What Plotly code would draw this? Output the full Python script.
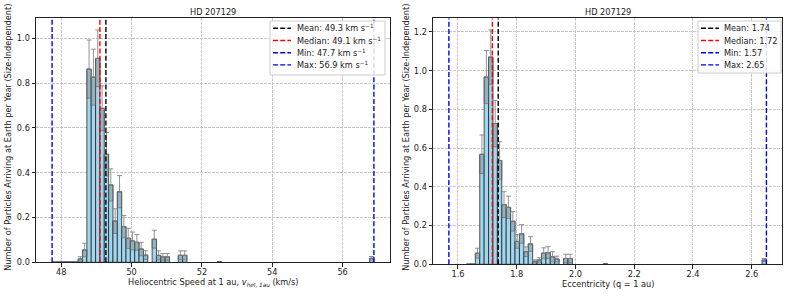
import numpy as np
import plotly.graph_objects as go

# ---------------- data ----------------
speed_bin_min = 47.74
speed_bin_max = 56.89
speed_nbins = 74
speed_counts = [0.002, 0.002, 0.002, 0.002, 0.002, 0.002, 0.015, 0.055, 0.862, 0.826,
                0.910, 0.687, 0.482, 0.345, 0.184, 0.315, 0.159, 0.107, 0.095, 0.089,
                0.059, 0.032, 0.0, 0.103, 0.031, 0.024, 0.024, 0.0, 0.0, 0.031,
                0.031, 0.0, 0.0, 0.0, 0.0, 0.0, 0.0, 0.0, 0.003, 0.0,
                0.0, 0.0, 0.0, 0.0, 0.0, 0.0, 0.0, 0.0, 0.0, 0.0,
                0.0, 0.0, 0.0, 0.0, 0.0, 0.0, 0.0, 0.0, 0.0, 0.0,
                0.0, 0.0, 0.0, 0.0, 0.0, 0.0, 0.0, 0.0, 0.0, 0.0,
                0.0, 0.0, 0.0, 0.018]
speed_errors = [0.0, 0.0, 0.0, 0.0, 0.0, 0.0, 0.010, 0.030, 0.130, 0.125,
                0.127, 0.100, 0.097, 0.072, 0.055, 0.072, 0.050, 0.045, 0.040, 0.035,
                0.030, 0.020, 0.0, 0.040, 0.020, 0.015, 0.015, 0.0, 0.0, 0.020,
                0.020, 0.0, 0.0, 0.0, 0.0, 0.0, 0.0, 0.0, 0.0, 0.0,
                0.0, 0.0, 0.0, 0.0, 0.0, 0.0, 0.0, 0.0, 0.0, 0.0,
                0.0, 0.0, 0.0, 0.0, 0.0, 0.0, 0.0, 0.0, 0.0, 0.0,
                0.0, 0.0, 0.0, 0.0, 0.0, 0.0, 0.0, 0.0, 0.0, 0.0,
                0.0, 0.0, 0.0, 0.008]
speed_stat_names = ["Mean: 49.3 km s<sup>\u22121</sup>", "Median: 49.1 km s<sup>\u22121</sup>",
                    "Min: 47.7 km s<sup>\u22121</sup>", "Max: 56.9 km s<sup>\u22121</sup>"]
speed_stat_values = [49.27, 49.10, 47.74, 56.89]
speed_ticks = [48, 50, 52, 54, 56]

ecc_bin_min = 1.569
ecc_bin_max = 2.650
ecc_nbins = 72
ecc_counts = [0.0, 0.0, 0.0, 0.0, 0.002, 0.002, 0.057, 0.568, 0.967, 1.070,
              0.727, 0.536, 0.308, 0.294, 0.222, 0.118, 0.157, 0.065, 0.105, 0.015,
              0.022, 0.057, 0.060, 0.039, 0.027, 0.0, 0.030, 0.030, 0.0, 0.0,
              0.0, 0.0, 0.0, 0.0, 0.0, 0.003, 0.0, 0.0, 0.0, 0.0,
              0.0, 0.0, 0.0, 0.0, 0.0, 0.0, 0.0, 0.0, 0.0, 0.0,
              0.0, 0.0, 0.0, 0.0, 0.0, 0.0, 0.0, 0.0, 0.0, 0.0,
              0.0, 0.0, 0.0, 0.0, 0.0, 0.0, 0.0, 0.0, 0.0, 0.0,
              0.0, 0.022]
ecc_errors = [0.0, 0.0, 0.0, 0.0, 0.0, 0.0, 0.026, 0.100, 0.137, 0.140,
              0.120, 0.097, 0.067, 0.058, 0.050, 0.035, 0.048, 0.025, 0.038, 0.008,
              0.012, 0.028, 0.031, 0.026, 0.015, 0.0, 0.022, 0.022, 0.0, 0.0,
              0.0, 0.0, 0.0, 0.0, 0.0, 0.0, 0.0, 0.0, 0.0, 0.0,
              0.0, 0.0, 0.0, 0.0, 0.0, 0.0, 0.0, 0.0, 0.0, 0.0,
              0.0, 0.0, 0.0, 0.0, 0.0, 0.0, 0.0, 0.0, 0.0, 0.0,
              0.0, 0.0, 0.0, 0.0, 0.0, 0.0, 0.0, 0.0, 0.0, 0.0,
              0.0, 0.008]
ecc_stat_names = ["Mean: 1.74", "Median: 1.72", "Min: 1.57", "Max: 2.65"]
ecc_stat_values = [1.737, 1.717, 1.569, 2.650]
ecc_ticks = [1.6, 1.8, 2.0, 2.2, 2.4, 2.6]

stat_colors = ["black", "red", "blue", "blue"]
title_text = "HD 207129"
ylabel = "Number of Particles Arriving at Earth per Year (Size-Independent)"
xlabel_speed = "Heliocentric Speed at 1 au, <i>v<sub>hel, 1au</sub></i> (km/s)"
xlabel_ecc = "Eccentricity (q = 1 au)"

FONT = "DejaVu Sans"
FS = 8.2
LFS = 8.2
TXT = "#222"
W, H = 793, 297

fig = go.Figure()
shapes = []
annotations = []


def py(pix):
    return (H - pix) / H


def px(pix):
    return pix / W


def add_panel(bmin, bmax, nb, counts, errs, names, vals, xa, ya, leg_box, leg_line, leg_text_x):
    counts = np.array(counts)
    errs = np.array(errs)
    edges = np.linspace(bmin, bmax, nb + 1)
    centers = 0.5 * (edges[:-1] + edges[1:])
    w = edges[1] - edges[0]
    m = counts > 0
    fig.add_trace(go.Bar(x=centers[m], y=counts[m], width=w, xaxis=xa, yaxis=ya,
                         marker=dict(color="rgb(160,215,238)",
                                     line=dict(color="rgba(20,20,20,0.9)", width=0.8)),
                         showlegend=False, hoverinfo="skip"))
    me = errs > 0
    fig.add_trace(go.Bar(x=centers[me], y=errs[me], base=(counts - errs)[me], width=w,
                         xaxis=xa, yaxis=ya,
                         marker=dict(color="rgba(128,128,128,0.42)",
                                     line=dict(color="rgba(90,90,90,0.7)", width=0.8)),
                         showlegend=False, hoverinfo="skip"))
    fig.add_trace(go.Scatter(x=centers[me], y=counts[me], mode="markers", xaxis=xa, yaxis=ya,
                             marker=dict(size=1, opacity=0),
                             error_y=dict(type="data", symmetric=False, array=errs[me],
                                          arrayminus=np.zeros(me.sum()),
                                          color="rgba(128,128,128,0.85)", thickness=1, width=2.5),
                             showlegend=False, hoverinfo="skip"))
    ytop = float(np.max(counts + errs)) * 1.05
    for v, c in zip(vals, stat_colors):
        fig.add_trace(go.Scatter(x=[v, v], y=[0, ytop], mode="lines", xaxis=xa, yaxis=ya,
                                 line=dict(color=c, width=1.4, dash="5px,2.2px"),
                                 showlegend=False, hoverinfo="skip"))
    # manual legend (matplotlib style)
    x0, y0, x1, y1 = leg_box
    shapes.append(dict(type="rect", xref="paper", yref="paper", x0=px(x0), x1=px(x1),
                       y0=py(y1), y1=py(y0), fillcolor="rgba(255,255,255,0.85)",
                       line=dict(color="#cccccc", width=1), layer="above"))
    rows = [y0 + 7.3 + 12.2 * i for i in range(len(names))]
    for name, c, ry in zip(names, stat_colors, rows):
        shapes.append(dict(type="line", xref="paper", yref="paper", x0=px(leg_line[0]),
                           x1=px(leg_line[1]), y0=py(ry), y1=py(ry),
                           line=dict(color=c, width=1.4, dash="5px,2.2px"), layer="above"))
        annotations.append(dict(text=name, x=px(leg_text_x), y=py(ry), xref="paper", yref="paper",
                                xanchor="left", yanchor="middle", showarrow=False,
                                font=dict(family=FONT, size=LFS, color=TXT)))
    span = bmax - bmin
    return [bmin - 0.05 * span, bmax + 0.05 * span], ytop


xr1, yt1 = add_panel(speed_bin_min, speed_bin_max, speed_nbins, speed_counts, speed_errors,
                     speed_stat_names, speed_stat_values, "x", "y",
                     (270, 21, 385, 75), (273, 291), 295)
xr2, yt2 = add_panel(ecc_bin_min, ecc_bin_max, ecc_nbins, ecc_counts, ecc_errors,
                     ecc_stat_names, ecc_stat_values, "x2", "y2",
                     (698, 21, 781, 73), (701, 719), 722)

d1 = [px(36), px(390)]
d2 = [px(433), px(782.3)]
yd1 = [py(262.3), py(18.3)]
yd2 = [py(264.3), py(18.3)]

axis_common = dict(showline=True, linecolor="#222", linewidth=1, mirror=True,
                   ticks="outside", ticklen=3.5, tickcolor="#222", tickwidth=0.8,
                   showgrid=True, gridcolor="#c8c8c8", griddash="2.5px,1.5px", gridwidth=0.8,
                   zeroline=False, automargin=False,
                   tickfont=dict(family=FONT, size=FS, color=TXT))
xaxis_extra = dict(ticklabelstandoff=-2)

# titles and axis labels
for (dx, dy, xl, ylx, xly) in [(d1, yd1, xlabel_speed, 8.3, 282.5), (d2, yd2, xlabel_ecc, 406.3, 284)]:
    cx = (dx[0] + dx[1]) / 2
    annotations.append(dict(text=title_text, x=cx, y=py(12), xref="paper", yref="paper",
                            showarrow=False, font=dict(family=FONT, size=FS, color=TXT),
                            xanchor="center", yanchor="middle"))
    annotations.append(dict(text=xl, x=cx, y=py(xly), xref="paper", yref="paper",
                            showarrow=False, font=dict(family=FONT, size=FS, color=TXT),
                            xanchor="center", yanchor="middle"))
    annotations.append(dict(text=ylabel, x=px(ylx), y=py(137.5), xref="paper", yref="paper",
                            showarrow=False, textangle=-90,
                            font=dict(family=FONT, size=FS, color=TXT),
                            xanchor="center", yanchor="middle"))

fig.update_layout(
    width=W, height=H, margin=dict(l=0, r=0, t=0, b=0),
    paper_bgcolor="white", plot_bgcolor="white", barmode="overlay", showlegend=False,
    font=dict(family=FONT, size=FS, color=TXT),
    xaxis=dict(domain=d1, anchor="y", range=xr1, tickvals=speed_ticks, **axis_common, **xaxis_extra),
    yaxis=dict(domain=yd1, anchor="x", range=[0, yt1], dtick=0.2, tickformat=".1f", **axis_common),
    xaxis2=dict(domain=d2, anchor="y2", range=xr2, tickvals=ecc_ticks, tickformat=".1f",
                **axis_common, **xaxis_extra),
    yaxis2=dict(domain=yd2, anchor="x2", range=[0, yt2], dtick=0.2, tickformat=".1f",
                **axis_common),
    shapes=shapes,
    annotations=annotations,
)

fig.write_html("out.html", config={"displayModeBar": False},
               post_script="document.body.style.margin='0';document.body.style.overflow='hidden';")
